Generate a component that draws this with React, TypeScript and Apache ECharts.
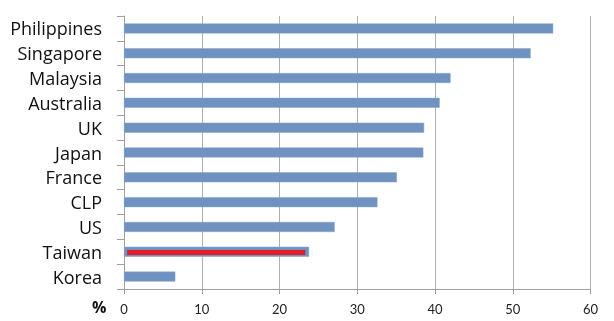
import React, { useEffect, useRef } from "react";
import * as echarts from "echarts";

const categories = ["Philippines", "Singapore", "Malaysia", "Australia", "UK", "Japan", "France", "CLP", "US", "Taiwan", "Korea"];
const values = [55.2, 52.3, 42.0, 40.6, 38.6, 38.5, 35.1, 32.6, 27.1, 23.8, 6.6];
const highlightCategory = "Taiwan";
const highlightRange = [0.4, 23.3];
const xTicks = { min: 0, max: 60, interval: 10 };
const unitLabel = "%";

export default function App() {
  const ref = useRef<HTMLDivElement>(null);
  useEffect(() => {
    if (!ref.current) return;
    const chart = echarts.init(ref.current, null, { renderer: "svg" });
    chart.setOption({
      animation: false,
      grid: { left: 124, right: 23.5, top: 16, bottom: 32 },
      xAxis: {
        type: "value",
        min: xTicks.min,
        max: xTicks.max,
        interval: xTicks.interval,
        axisLine: { show: true, lineStyle: { color: "#a0a0a0", width: 1 } },
        axisTick: { show: true, length: 5, lineStyle: { color: "#a0a0a0" } },
        splitLine: { show: true, lineStyle: { color: "#b0b0b0", width: 1 } },
        axisLabel: { color: "#222", fontSize: 13, fontFamily: "Lato, sans-serif", margin: 13 },
      },
      yAxis: {
        type: "category",
        inverse: true,
        data: categories,
        axisLine: { show: true, lineStyle: { color: "#a0a0a0", width: 1 } },
        axisTick: { show: true, length: 7, lineStyle: { color: "#a0a0a0" } },
        axisLabel: { color: "#111", fontSize: 18, fontFamily: "Open Sans, sans-serif", margin: 22 },
        splitLine: { show: false },
      },
      series: [
        {
          type: "bar",
          data: values,
          barWidth: 10,
          itemStyle: { color: "#6f92c0", borderColor: "#86a5cc", borderWidth: 0.5 },
          markLine: {
            silent: true,
            symbol: "none",
            label: { show: false },
            lineStyle: { color: "#e31d27", width: 5, type: "solid" },
            data: [[
              { coord: [highlightRange[0], highlightCategory] },
              { coord: [highlightRange[1], highlightCategory] },
            ]],
          },
        },
      ],
      graphic: [
        {
          type: "text",
          left: 92,
          top: 299,
          style: { text: unitLabel, font: "bold 16px 'Open Sans', sans-serif", fill: "#111" },
        },
      ],
    });
    return () => chart.dispose();
  }, []);
  return <div ref={ref} style={{ position: "fixed", left: 0, top: 0, width: 614, height: 321 }} />;
}
